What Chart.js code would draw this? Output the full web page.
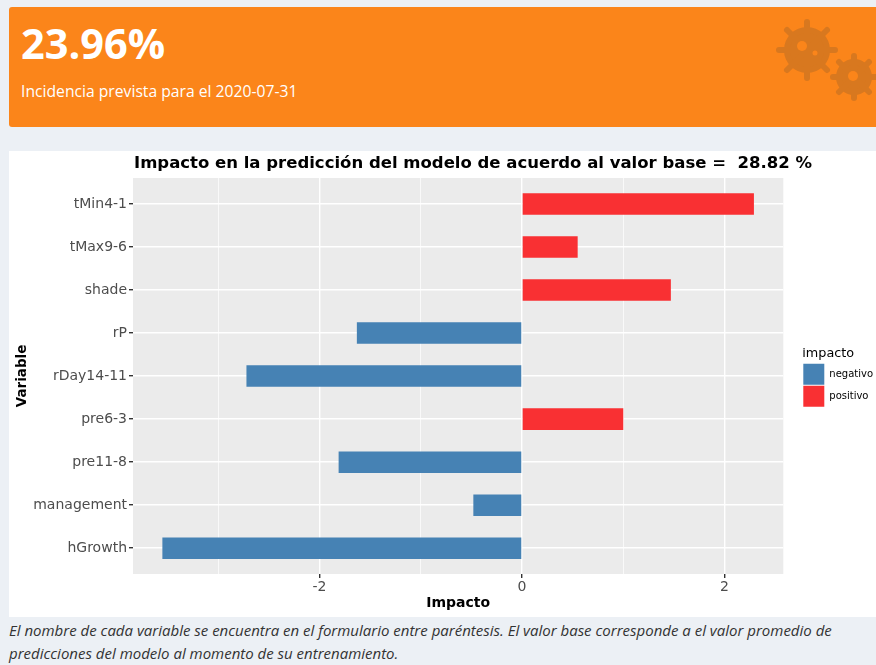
<!DOCTYPE html>
<html>
<head>
<meta charset="utf-8">
<title>Incidencia prevista</title>
<script src="https://cdn.jsdelivr.net/npm/chart.js@4"></script>
<style>
  html, body { margin: 0; padding: 0; }
  body { width: 876px; height: 665px; background: #ecf0f5; position: relative; overflow: hidden; font-family: "Open Sans", sans-serif; }
  #box { position: absolute; left: 9px; top: 7px; width: 867px; height: 120px; background: #fb851a; border-radius: 3px 0 0 3px; color: #fff; overflow: hidden; }
  #boxValue { position: absolute; left: 12px; top: 8px; font-size: 41.5px; font-weight: 700; line-height: 56px; }
  #boxText { position: absolute; left: 12px; top: 73px; font-size: 15.7px; line-height: 22px; }
  #gears { position: absolute; left: 0; top: 0; }
  #panel { position: absolute; left: 9px; top: 151px; width: 867px; height: 466px; background: #fff; }
  #chartTitle { position: absolute; left: 125px; top: 1px; white-space: nowrap; font: bold 16.5px "DejaVu Sans", sans-serif; line-height: 22px; color: #000; }
  #note { position: absolute; left: 9px; top: 619px; width: 860px; font-size: 15px; font-style: italic; line-height: 23px; color: #333; }
</style>
</head>
<body>
<div id="box">
  <svg id="gears" width="867" height="120" stroke="#d8781f" fill="#d8781f" stroke-linecap="round">
    <g stroke-width="6">
      <circle cx="798" cy="43" r="20"></circle>
      <path d="M798 15V71M770 43H826M778 23L818 63M778 63L818 23"></path>
      <circle cx="845" cy="70" r="15"></circle>
      <path d="M845 49V91M824 70H866M830 55L860 85M830 85L860 55"></path>
    </g>
    <g stroke="none" fill="#fb851a">
      <circle cx="793" cy="39" r="5"></circle>
      <circle cx="806" cy="46" r="2.5"></circle>
      <circle cx="844" cy="69" r="5"></circle>
    </g>
  </svg>
  <div id="boxValue">23.96%</div>
  <div id="boxText">Incidencia prevista para el 2020-07-31</div>
</div>
<div id="panel">
  <canvas id="impactChart" width="867" height="466"></canvas>
  <div id="chartTitle">Impacto en la predicción del modelo de acuerdo al valor base =&nbsp; 28.82 %</div>
</div>
<div id="note">El nombre de cada variable se encuentra en el formulario entre paréntesis. El valor base corresponde a el valor promedio de predicciones del modelo al momento de su entrenamiento.</div>

<script>
const variables = ["tMin4-1", "tMax9-6", "shade", "rP", "rDay14-11", "pre6-3", "pre11-8", "management", "hGrowth"];
const impactValues = [2.29, 0.55, 1.47, -1.63, -2.72, 1.0, -1.81, -0.48, -3.55];
const xTickValues = [-3, -2, -1, 0, 1, 2];
const xTickLabels = ["", "-2", "", "0", "", "2"];

const axisFont = "'DejaVu Sans', sans-serif";

function pointsWhere(test) {
  const points = [];
  impactValues.forEach(function (value, i) {
    if (test(value)) {
      points.push({ x: value, y: i });
    }
  });
  return points;
}

// grey ggplot panel, and the legend nudged right of the space it reserved
const ggplotLook = {
  id: "ggplotLook",
  afterLayout: function (chart) {
    chart.legend.left += 19;
    chart.legend.right += 19;
    chart.legend.top -= 20;
    chart.legend.bottom -= 20;
  },
  beforeDraw: function (chart) {
    const area = chart.chartArea;
    chart.ctx.fillStyle = "#ebebeb";
    chart.ctx.fillRect(area.left, area.top, area.width, area.height);
  }
};

new Chart(document.getElementById("impactChart").getContext("2d"), {
  type: "bar",
  plugins: [ggplotLook],
  data: {
    datasets: [
      { label: "negativo", data: pointsWhere(v => v < 0), backgroundColor: "#4682b4" },
      { label: "positivo", data: pointsWhere(v => v > 0), backgroundColor: "#f93033" }
    ]
  },
  options: {
    indexAxis: "y",
    responsive: false,
    animation: false,
    barPercentage: 0.5,
    categoryPercentage: 1,
    layout: { padding: { top: 27, right: 12, bottom: 0, left: 0 } },
    scales: {
      x: {
        type: "linear",
        stacked: true,
        min: -3.84,
        max: 2.58,
        afterBuildTicks: function (axis) {
          axis.ticks = xTickValues.map(v => ({ value: v }));
        },
        afterFit: function (axis) { axis.height = 43; },
        border: { display: false },
        grid: {
          color: "#fff",
          lineWidth: ctx => (ctx.tick.value % 2 === 0 ? 1.4 : 0.7),
          tickColor: ctx => (ctx.tick.value % 2 === 0 ? "#333" : "rgba(0,0,0,0)"),
          tickLength: 4
        },
        ticks: {
          autoSkip: false,
          maxRotation: 0,
          padding: 1,
          color: "#4d4d4d",
          font: { family: axisFont, size: 14 },
          callback: function (value) {
            return xTickLabels[xTickValues.indexOf(value)];
          }
        },
        title: {
          display: true,
          text: "Impacto",
          color: "#000",
          padding: { top: 1, bottom: 5 },
          font: { family: axisFont, size: 14, weight: "bold" }
        }
      },
      y: {
        type: "linear",
        stacked: true,
        reverse: true,
        offset: false,
        min: -0.605,
        max: 8.6,
        afterBuildTicks: function (axis) {
          axis.ticks = variables.map((name, i) => ({ value: i }));
        },
        afterFit: function (axis) { axis.width = 124; },
        border: { display: false },
        grid: { offset: false, color: "#fff", lineWidth: 1.4, tickColor: "#333", tickLength: 4 },
        ticks: {
          autoSkip: false,
          padding: 2,
          color: "#4d4d4d",
          font: { family: axisFont, size: 14 },
          callback: function (value) {
            return variables[value];
          }
        },
        title: {
          display: true,
          text: "Variable",
          color: "#000",
          padding: { top: 5, bottom: 0 },
          font: { family: axisFont, size: 13.5, weight: "bold" }
        }
      }
    },
    plugins: {
      tooltip: { enabled: false },
      legend: {
        position: "right",
        title: {
          display: true,
          text: "impacto",
          color: "#000",
          position: "start",
          padding: { top: 0, bottom: 0 },
          font: { family: axisFont, size: 12.8 }
        },
        labels: {
          boxWidth: 21,
          boxHeight: 21,
          padding: 1,
          color: "#000",
          font: { family: axisFont, size: 10 }
        }
      }
    }
  }
});
</script>
</body>
</html>
